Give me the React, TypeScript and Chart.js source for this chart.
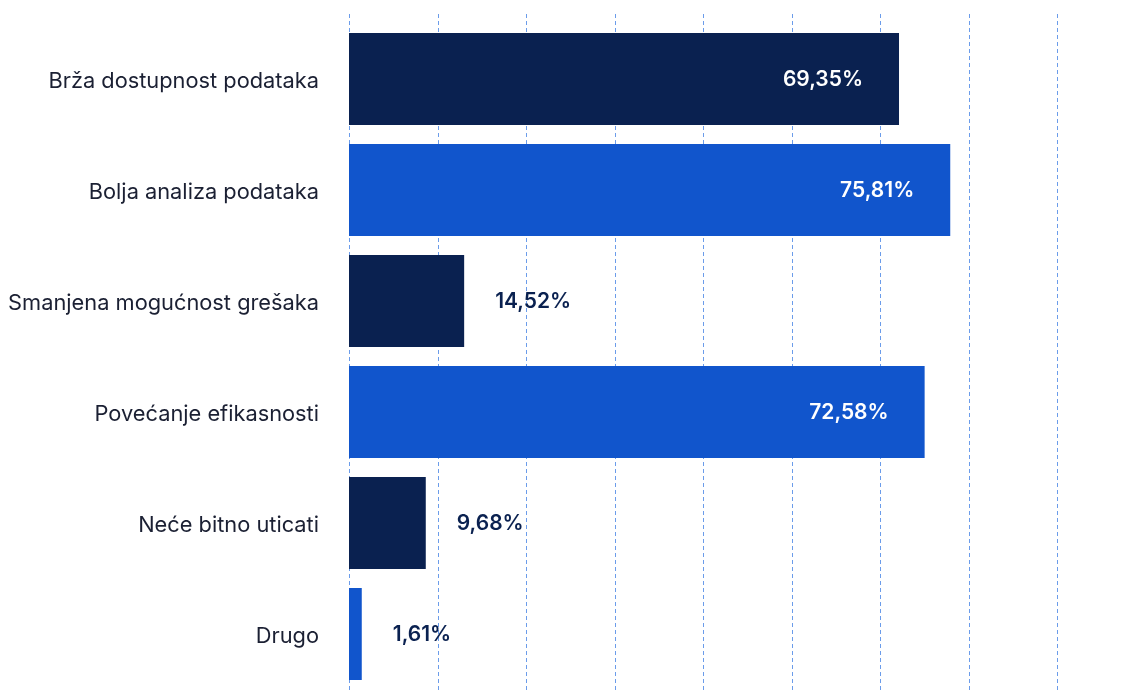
import React, { useEffect, useRef } from "react";
import { Chart, registerables } from "chart.js";

Chart.register(...registerables);

const categories = [
  "Brža dostupnost podataka",
  "Bolja analiza podataka",
  "Smanjena mogućnost grešaka",
  "Povećanje efikasnosti",
  "Neće bitno uticati",
  "Drugo",
];
const values = [69.35, 75.81, 14.52, 72.58, 9.68, 1.61];
const barColors = ["#0a2150", "#1155cc", "#0a2150", "#1155cc", "#0a2150", "#1155cc"];
const axisMax = 89.27;
const gridCount = 8;

const NAVY = "#0a2150";
const FONT = "Inter, 'Noto Sans', sans-serif";

const fmt = (v: number) => v.toFixed(2).replace(".", ",") + "%";

const gridPlugin = {
  id: "dashedGrid",
  beforeDatasetsDraw(chart: any) {
    const { ctx } = chart;
    const xs = chart.scales.x;
    ctx.save();
    ctx.strokeStyle = "#6b9cea";
    ctx.lineWidth = 1;
    ctx.setLineDash([4, 3]);
    for (let i = 0; i <= gridCount; i++) {
      const x = Math.round(xs.getPixelForValue((axisMax / gridCount) * i)) + 0.5;
      ctx.beginPath();
      ctx.moveTo(x, 14);
      ctx.lineTo(x, chart.height);
      ctx.stroke();
    }
    ctx.restore();
  },
};

const labelPlugin = {
  id: "valueLabels",
  afterDatasetsDraw(chart: any) {
    const { ctx } = chart;
    const meta = chart.getDatasetMeta(0);
    ctx.save();
    ctx.font = `600 21px ${FONT}`;
    ctx.textBaseline = "middle";
    meta.data.forEach((bar: any, i: number) => {
      const v = values[i];
      const text = fmt(v);
      if (v > 40) {
        ctx.fillStyle = "#ffffff";
        ctx.textAlign = "right";
        ctx.fillText(text, bar.x - 36, bar.y + 1);
      } else {
        ctx.fillStyle = NAVY;
        ctx.textAlign = "left";
        ctx.fillText(text, bar.x + 31, bar.y + 1);
      }
    });
    ctx.restore();
  },
};

export default function App() {
  const ref = useRef<HTMLCanvasElement | null>(null);
  useEffect(() => {
    if (!ref.current) return;
    const chart = new Chart(ref.current, {
      type: "bar",
      data: {
        labels: categories,
        datasets: [
          {
            data: values,
            backgroundColor: barColors,
            borderWidth: 0,
            categoryPercentage: 1,
            barPercentage: 0.829,
          },
        ],
      },
      options: {
        indexAxis: "y",
        animation: false,
        responsive: true,
        maintainAspectRatio: false,
        layout: { padding: { left: 0, right: 78, top: 23.5, bottom: 3.5 } },
        plugins: { legend: { display: false }, tooltip: { enabled: false } },
        scales: {
          x: { display: false, min: 0, max: axisMax },
          y: {
            grid: { display: false, drawTicks: false },
            border: { display: false },
            ticks: {
              padding: 30,
              labelOffset: 2,
              color: "#1b2033",
              font: { family: FONT, size: 21.8, weight: "400" as any },
            },
            afterFit(scale: any) {
              scale.width = 349;
              scale.paddingTop = 0;
              scale.paddingBottom = 0;
            },
          },
        },
      },
      plugins: [gridPlugin, labelPlugin],
    });
    return () => chart.destroy();
  }, []);
  return (
    <div style={{ position: "absolute", left: 0, top: 0, width: 1135, height: 693, background: "#fff" }}>
      <canvas ref={ref} />
    </div>
  );
}
